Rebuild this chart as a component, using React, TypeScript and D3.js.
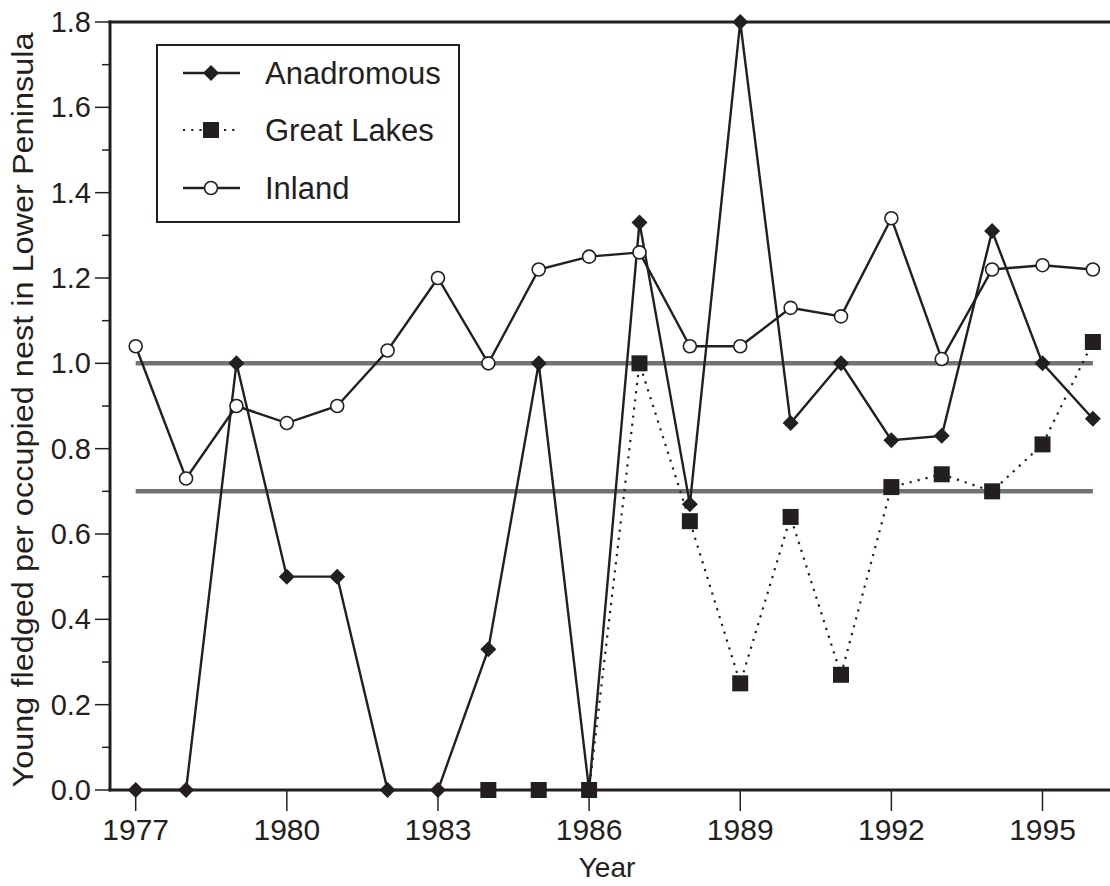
import React from "react";
import * as d3 from "d3";

const years = [1977, 1978, 1979, 1980, 1981, 1982, 1983, 1984, 1985, 1986, 1987, 1988, 1989, 1990, 1991, 1992, 1993, 1994, 1995, 1996];
const anadromous = [0, 0, 1.0, 0.5, 0.5, 0, 0, 0.33, 1.0, 0, 1.33, 0.67, 1.8, 0.86, 1.0, 0.82, 0.83, 1.31, 1.0, 0.87];
const greatLakesYears = [1984, 1985, 1986, 1987, 1988, 1989, 1990, 1991, 1992, 1993, 1994, 1995, 1996];
const greatLakes = [0, 0, 0, 1.0, 0.63, 0.25, 0.64, 0.27, 0.71, 0.74, 0.7, 0.81, 1.05];
const inland = [1.04, 0.73, 0.9, 0.86, 0.9, 1.03, 1.2, 1.0, 1.22, 1.25, 1.26, 1.04, 1.04, 1.13, 1.11, 1.34, 1.01, 1.22, 1.23, 1.22];
const refLevels = [1.0, 0.7];
const xTicks = [1977, 1980, 1983, 1986, 1989, 1992, 1995];
const yTicks = [0, 0.2, 0.4, 0.6, 0.8, 1.0, 1.2, 1.4, 1.6, 1.8];
const yMinor = [0.1, 0.3, 0.5, 0.7, 0.9, 1.1, 1.3, 1.5, 1.7];
const seriesNames = ["Anadromous", "Great Lakes", "Inland"];

const INK = "#231f20";
const FONT = "'Liberation Sans', Arial, Helvetica, sans-serif";

export default function App() {
  const W = 1110, H = 886;
  const left = 110, right = 1108, top = 22, bottom = 790;
  const x = d3.scaleLinear().domain([1976.49, 1996.3]).range([left, right]);
  const y = d3.scaleLinear().domain([0, 1.8]).range([bottom, top]);

  const line = d3.line<[number, number]>().x(d => x(d[0])).y(d => y(d[1]));
  const anaPts: [number, number][] = years.map((yr, i) => [yr, anadromous[i]]);
  const glPts: [number, number][] = greatLakesYears.map((yr, i) => [yr, greatLakes[i]]);
  const inPts: [number, number][] = years.map((yr, i) => [yr, inland[i]]);

  const diamond = (cx: number, cy: number, r: number) =>
    `M${cx},${cy - r}L${cx + r},${cy}L${cx},${cy + r}L${cx - r},${cy}Z`;

  const lgX0 = 183, lgX1 = 240, lgMx = 211, lgTx = 265;
  const lgRows = [73, 130, 188];

  return (
    <svg width={W} height={H} style={{ display: "block", position: "absolute", left: 0, top: 0 }}>
      <rect x={0} y={0} width={W} height={H} fill="#fff" />
      {refLevels.map(v => (
        <line key={v} x1={x(1977)} x2={x(1996)} y1={y(v)} y2={y(v)} stroke="#707570" strokeWidth={4.5} />
      ))}
      <path d={line(glPts) || ""} fill="none" stroke={INK} strokeWidth={2.2} strokeDasharray="2.2,6" />
      <path d={line(anaPts) || ""} fill="none" stroke={INK} strokeWidth={2.4} />
      <path d={line(inPts) || ""} fill="none" stroke={INK} strokeWidth={2.4} />
      <line x1={left} x2={left} y1={top - 1.5} y2={bottom + 1.5} stroke={INK} strokeWidth={3} />
      <line x1={left - 1.5} x2={W} y1={bottom} y2={bottom} stroke={INK} strokeWidth={3} />
      <line x1={left - 1.5} x2={W} y1={top} y2={top} stroke={INK} strokeWidth={3} />
      {yTicks.map(v => (
        <g key={v}>
          <line x1={left - 15} x2={left} y1={y(v)} y2={y(v)} stroke={INK} strokeWidth={1.5} />
          <text x={left - 19} y={y(v) + 10} textAnchor="end" fontFamily={FONT} fontSize={29} fill={INK}>{v.toFixed(1)}</text>
        </g>
      ))}
      {yMinor.map(v => (
        <line key={v} x1={left - 8} x2={left} y1={y(v)} y2={y(v)} stroke={INK} strokeWidth={1.5} />
      ))}
      {xTicks.map(v => (
        <g key={v}>
          <line x1={x(v)} x2={x(v)} y1={bottom} y2={bottom + 21} stroke={INK} strokeWidth={1.5} />
          <text x={x(v)} y={840} textAnchor="middle" fontFamily={FONT} fontSize={30} fill={INK}>{v}</text>
        </g>
      ))}
      <text x={607} y={877} textAnchor="middle" fontFamily={FONT} fontSize={28} fill={INK}>Year</text>
      <text transform={`translate(33,${410}) rotate(-90)`} textAnchor="middle" fontFamily={FONT} fontSize={29}
        textLength={755} lengthAdjust="spacingAndGlyphs" fill={INK}>
        Young fledged per occupied nest in Lower Peninsula
      </text>
      {glPts.map((p, i) => (
        <rect key={"g" + i} x={x(p[0]) - 8} y={y(p[1]) - 8} width={16} height={16} fill={INK} />
      ))}
      {anaPts.map((p, i) => (
        <path key={"a" + i} d={diamond(x(p[0]), y(p[1]), 8)} fill={INK} />
      ))}
      {inPts.map((p, i) => (
        <circle key={"i" + i} cx={x(p[0])} cy={y(p[1])} r={6.5} fill="#fff" stroke={INK} strokeWidth={1.6} />
      ))}
      <rect x={157} y={45} width={302} height={177} fill="#fff" stroke={INK} strokeWidth={2} />
      <line x1={lgX0} x2={lgX1} y1={lgRows[0]} y2={lgRows[0]} stroke={INK} strokeWidth={2.4} />
      <path d={diamond(lgMx, lgRows[0], 8)} fill={INK} />
      <line x1={lgX0} x2={lgX1} y1={lgRows[1]} y2={lgRows[1]} stroke={INK} strokeWidth={2.2} strokeDasharray="2.2,6" />
      <rect x={lgMx - 8} y={lgRows[1] - 8} width={16} height={16} fill={INK} />
      <line x1={lgX0} x2={lgX1} y1={lgRows[2]} y2={lgRows[2]} stroke={INK} strokeWidth={2.4} />
      <circle cx={lgMx} cy={lgRows[2]} r={6.5} fill="#fff" stroke={INK} strokeWidth={1.6} />
      {seriesNames.map((n, i) => (
        <text key={n} x={lgTx} y={lgRows[i] + 11} fontFamily={FONT} fontSize={31} fill={INK}>{n}</text>
      ))}
    </svg>
  );
}
